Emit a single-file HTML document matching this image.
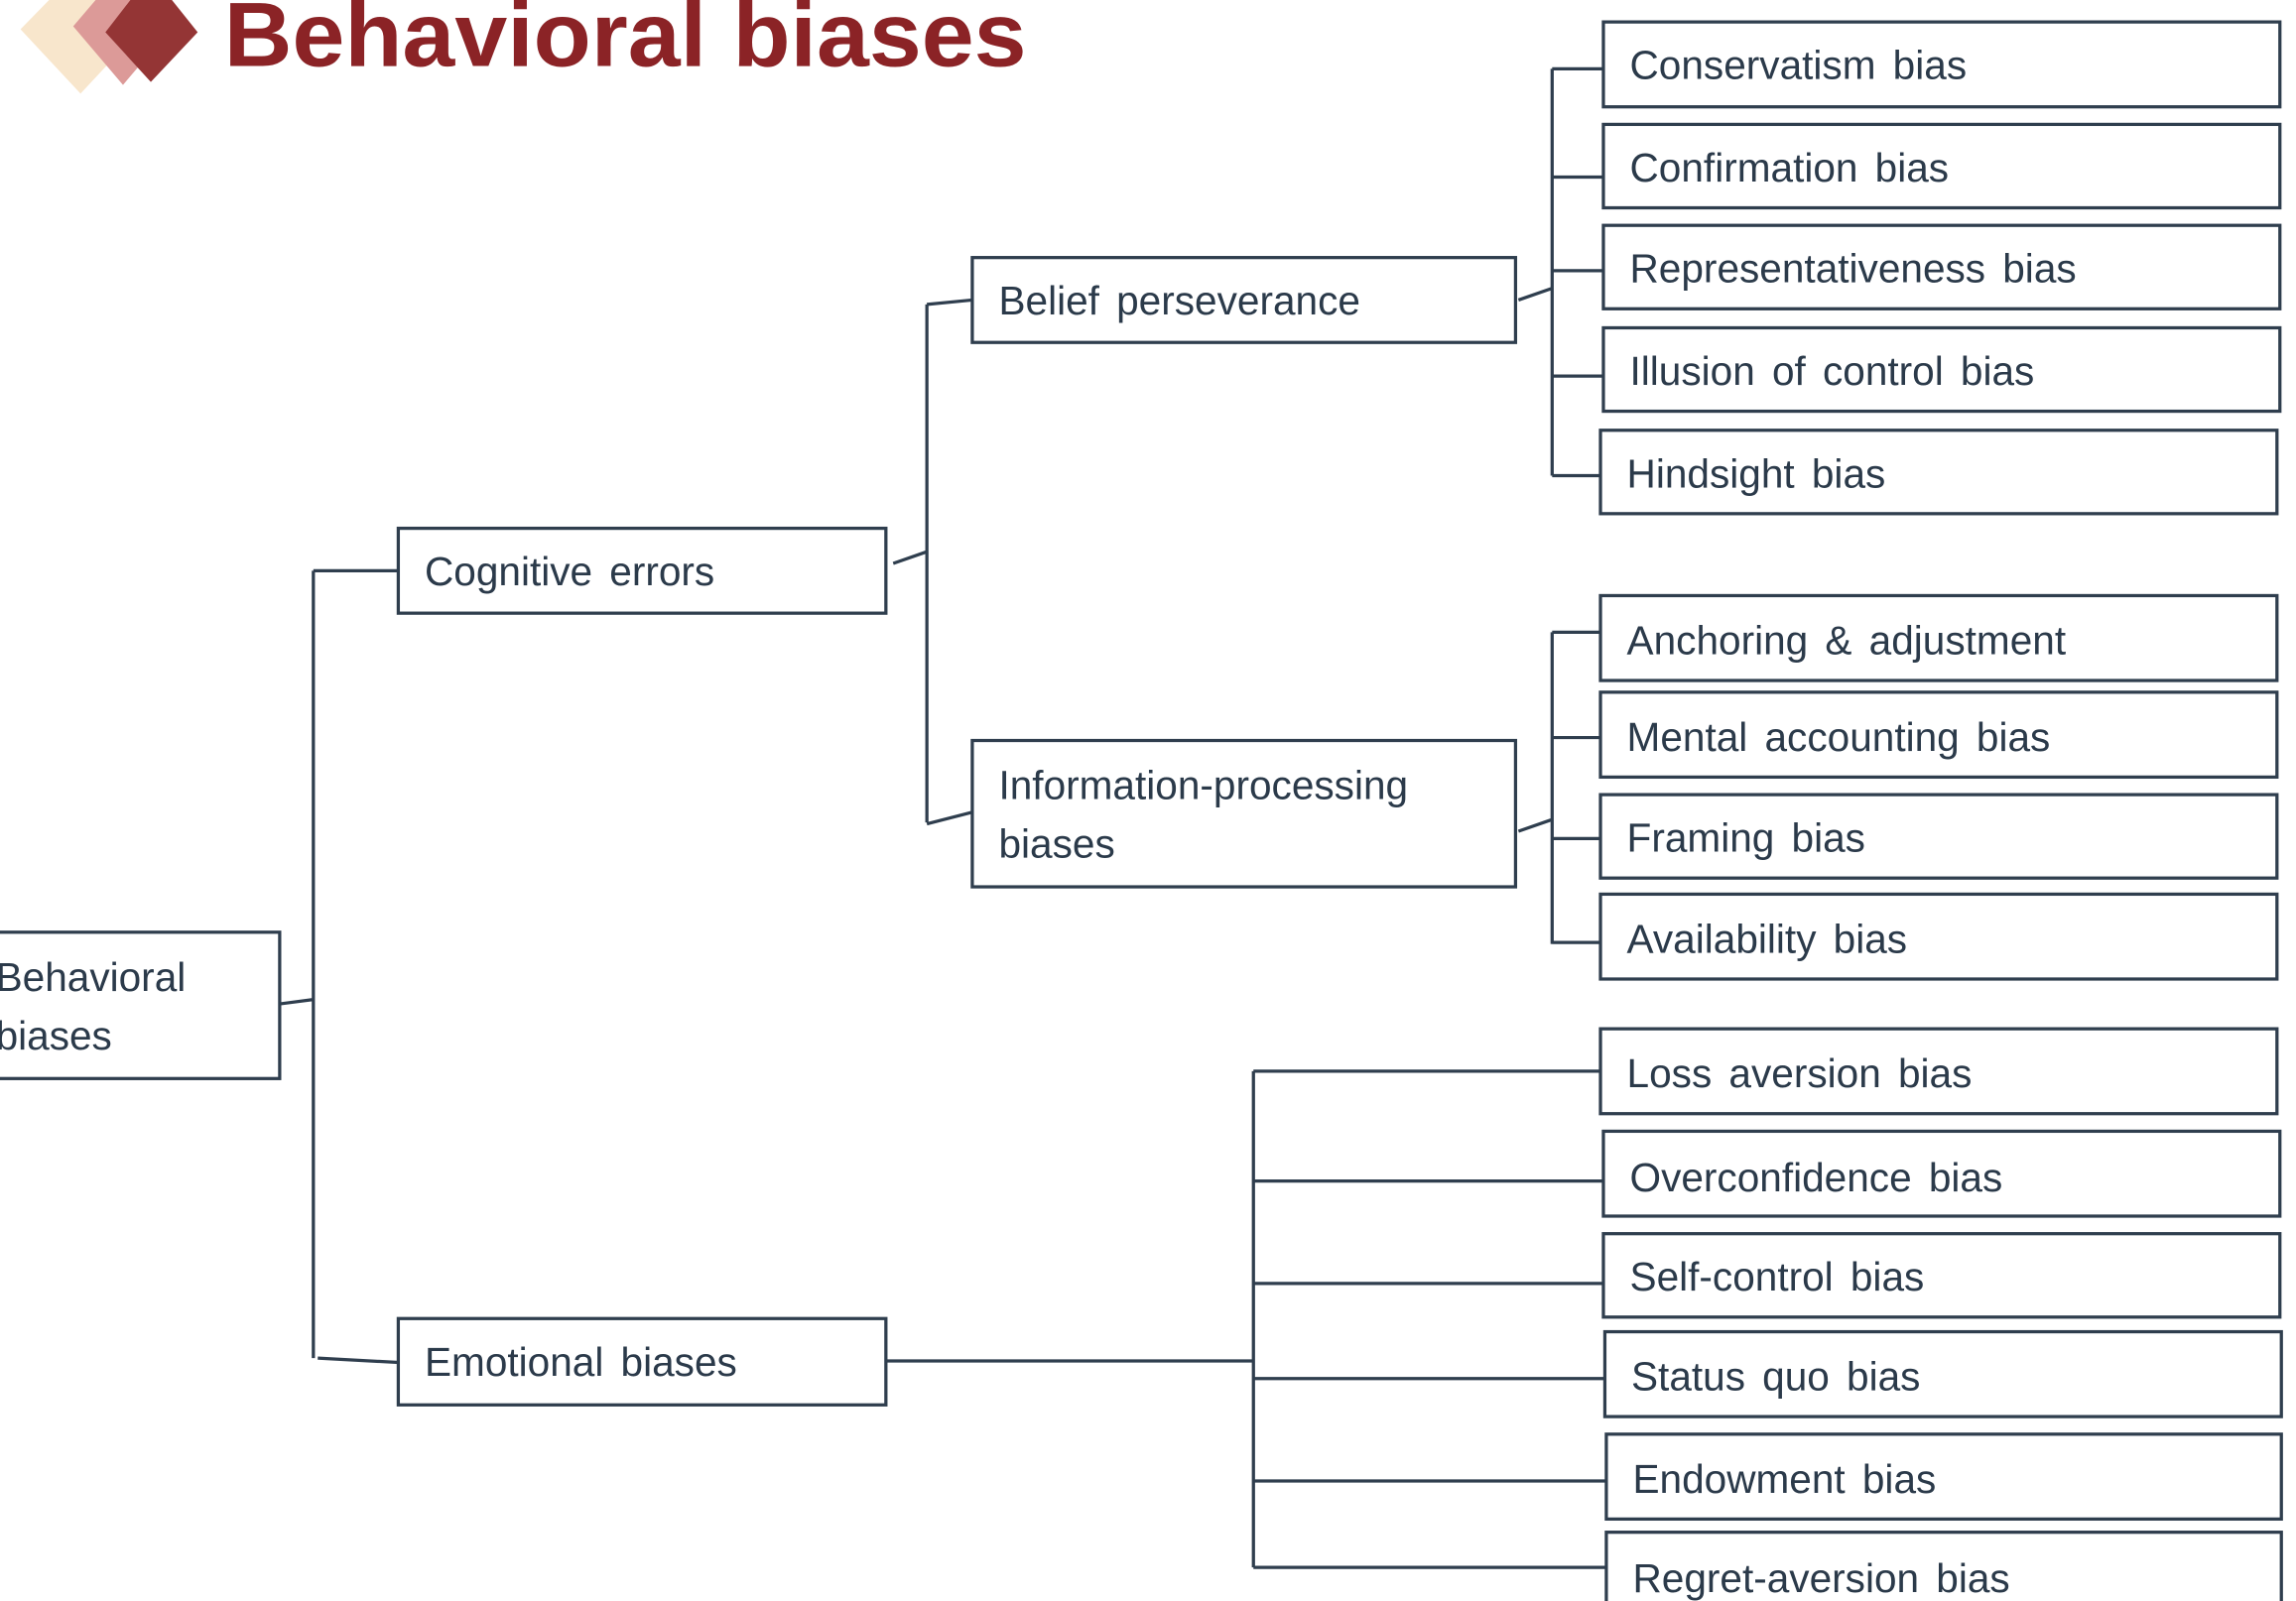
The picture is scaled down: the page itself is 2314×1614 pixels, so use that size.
<!DOCTYPE html>
<html><head><meta charset="utf-8"><style>
html,body{margin:0;padding:0;background:#fff;width:2314px;height:1614px;overflow:hidden}
svg{display:block}
text{font-family:"Liberation Sans",sans-serif;fill:#2b3a4a;font-size:27.5px;word-spacing:4px}
</style></head><body>
<svg width="2314" height="1614" viewBox="0 0 1568 1094" preserveAspectRatio="none">
<polygon points="55,-22 96,20 55,64 14,20" fill="#f8e6cc"/>
<polygon points="84,-22 118,18 84,58 50,18" fill="#dc9a98"/>
<polygon points="103,-18 135,22 103,56 72,22" fill="#943535"/>
<text x="153" y="45" style="font-size:62px;font-weight:bold;fill:#8b2326;word-spacing:0" textLength="548" lengthAdjust="spacingAndGlyphs">Behavioral biases</text>
<g fill="none" stroke="#2f3e4e" stroke-width="2.2">
<rect x="-5" y="637" width="196" height="100"/>
<rect x="272" y="361" width="333" height="58"/>
<rect x="272" y="901" width="333" height="59"/>
<rect x="664" y="176" width="371" height="58"/>
<rect x="664" y="506" width="371" height="100"/>
<rect x="1095" y="15" width="462" height="58"/>
<rect x="1095" y="85" width="462" height="57"/>
<rect x="1095" y="154" width="462" height="57"/>
<rect x="1095" y="224" width="462" height="57"/>
<rect x="1093" y="294" width="462" height="57"/>
<rect x="1093" y="407" width="462" height="58"/>
<rect x="1093" y="473" width="462" height="58"/>
<rect x="1093" y="543" width="462" height="57"/>
<rect x="1093" y="611" width="462" height="58"/>
<rect x="1093" y="703" width="462" height="58"/>
<rect x="1095" y="773" width="462" height="58"/>
<rect x="1095" y="843" width="462" height="57"/>
<rect x="1096" y="910" width="462" height="58"/>
<rect x="1097" y="980" width="461" height="58"/>
<rect x="1097" y="1047" width="461" height="60"/>
<path d="M214,390V928M214,390H272M191,686L214,683M217,928L272,931"/>
<path d="M633,208V562M610,385L633,377M633,208L664,205M633,563L664,555"/>
<path d="M1060,47V325M1037,205L1060,197M1060,47H1095M1060,121H1095M1060,185H1095M1060,257H1095M1060,325H1093"/>
<path d="M1060,432V645M1037,568L1060,560M1060,432H1093M1060,504H1093M1060,573H1093M1060,644H1093"/>
<path d="M605,930H856M856,732V1071M856,732H1093M856,807H1095M856,877H1095M856,942H1096M856,1012H1097M856,1071H1097"/>
</g>
<text x="-3" y="677">Behavioral</text>
<text x="-3" y="717">biases</text>
<text x="290" y="400">Cognitive errors</text>
<text x="290" y="940">Emotional biases</text>
<text x="682" y="215">Belief perseverance</text>
<text x="682" y="546">Information-processing</text>
<text x="682" y="586">biases</text>
<text x="1113" y="54">Conservatism bias</text>
<text x="1113" y="124">Confirmation bias</text>
<text x="1113" y="193">Representativeness bias</text>
<text x="1113" y="263">Illusion of control bias</text>
<text x="1111" y="333">Hindsight bias</text>
<text x="1111" y="447">Anchoring &amp; adjustment</text>
<text x="1111" y="513">Mental accounting bias</text>
<text x="1111" y="582">Framing bias</text>
<text x="1111" y="651">Availability bias</text>
<text x="1111" y="743">Loss aversion bias</text>
<text x="1113" y="814">Overconfidence bias</text>
<text x="1113" y="882">Self-control bias</text>
<text x="1114" y="950">Status quo bias</text>
<text x="1115" y="1020">Endowment bias</text>
<text x="1115" y="1088">Regret-aversion bias</text>
</svg>
</body></html>
